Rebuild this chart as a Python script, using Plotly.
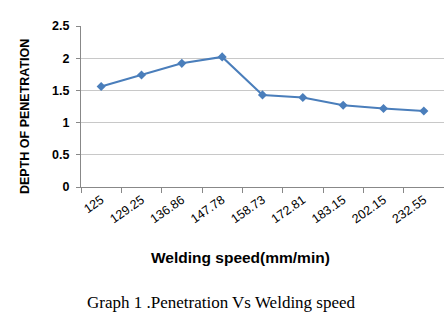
import plotly.graph_objects as go

speeds = ["125", "129.25", "136.86", "147.78", "158.73", "172.81", "183.15", "202.15", "232.55"]
depth = [1.56, 1.74, 1.92, 2.02, 1.43, 1.39, 1.27, 1.22, 1.18]
y_ticks = [0, 0.5, 1, 1.5, 2, 2.5]
y_tick_text = ["0", "0.5", "1", "1.5", "2", "2.5"]

W, H = 444, 329
L, R, T, B = 81, 0, 26, 142
pw = W - L - R
ph = H - T - B


def px(x):
    return (x - L) / pw


def py(y):
    return 1 - (y - T) / ph


fig = go.Figure()
fig.add_trace(go.Scatter(
    x=speeds, y=depth, mode="lines+markers",
    line=dict(color="#4a7ebb", width=2),
    marker=dict(symbol="diamond", size=7, color="#4a7ebb"),
    showlegend=False,
))

fig.update_layout(
    width=W, height=H,
    margin=dict(l=L, r=R, t=T, b=B),
    paper_bgcolor="white", plot_bgcolor="white",
    font=dict(family="Liberation Sans, Arial", color="black"),
    xaxis=dict(
        type="category", tickangle=-35,
        tickfont=dict(size=12.5, family="Liberation Sans, Arial"),
        ticks="outside", tickson="boundaries", ticklen=5, tickcolor="#888888",
        showline=True, linecolor="#888888", linewidth=1,
        showgrid=False, range=[-0.5, 8.5],
    ),
    yaxis=dict(
        range=[0, 2.5], tickvals=y_ticks, ticktext=y_tick_text,
        tickfont=dict(size=12.5, family="Liberation Sans, Arial", weight="bold"),
        showgrid=True, gridcolor="#c8c8c8", gridwidth=1,
        showline=True, linecolor="#888888", linewidth=1,
        zeroline=False, ticks="outside", ticklen=4, tickcolor="#888888",
        ticklabelstandoff=4,
    ),
    annotations=[
        dict(text="<b>DEPTH OF PENETRATION</b>", x=px(25), y=py(117), xref="paper", yref="paper",
             showarrow=False, textangle=-90,
             font=dict(size=12.5, family="Liberation Sans, Arial"),
             xanchor="center", yanchor="middle"),
        dict(text="<b>Welding speed(mm/min)</b>", x=px(240), y=py(257), xref="paper", yref="paper",
             showarrow=False, font=dict(size=15.5, family="Liberation Sans, Arial"),
             xanchor="center", yanchor="middle"),
        dict(text="Graph 1 .Penetration Vs Welding speed", x=px(221), y=py(302), xref="paper", yref="paper",
             showarrow=False, font=dict(size=17, family="Liberation Serif, Times New Roman"),
             xanchor="center", yanchor="middle"),
    ],
)

fig.write_html("out.html")
